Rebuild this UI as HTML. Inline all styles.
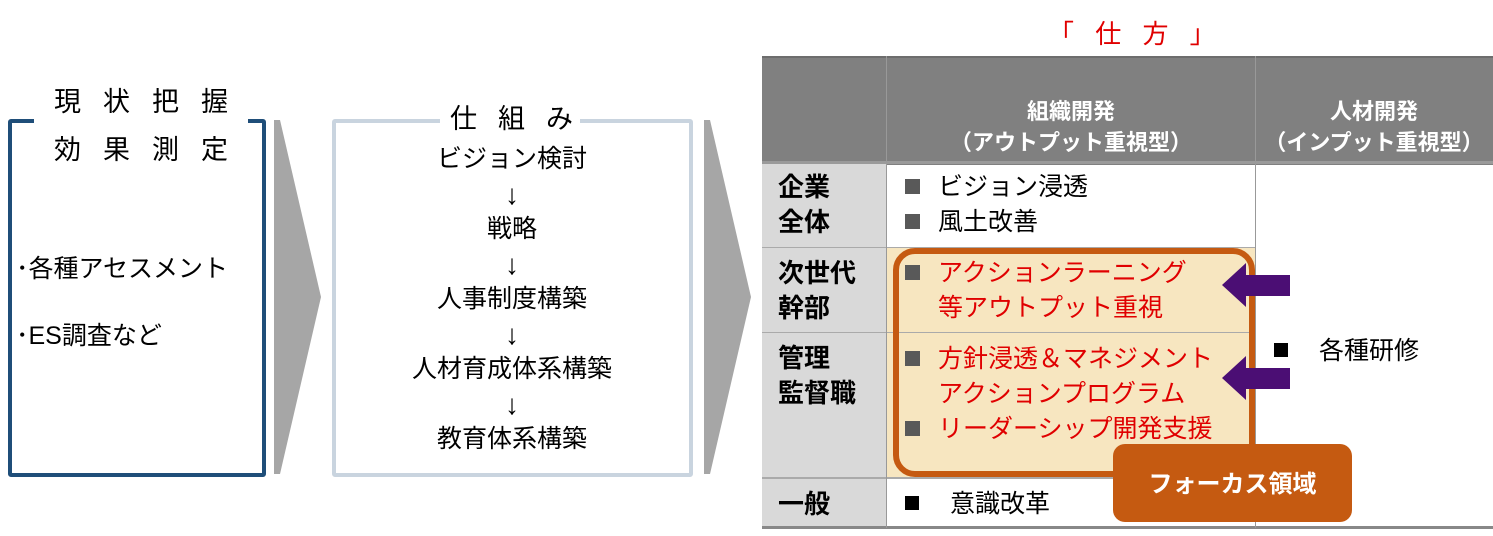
<!DOCTYPE html>
<html><head><meta charset="utf-8"><style>
body{margin:0;width:1493px;height:536px;background:#fff;position:relative;overflow:hidden;font-family:"Liberation Sans","Noto Sans CJK JP",sans-serif;color:#000}
.a{position:absolute;white-space:nowrap}
.c{text-align:center}
.sq{display:inline-block;width:15px;height:15px;background:#595959;margin-right:18px;vertical-align:1px}
.sk{display:inline-block;width:33px}
.bk{display:inline-block;width:14px;height:14px;background:#000;vertical-align:2px}
.l{height:35px;line-height:35px}
</style></head><body>
<div class="a" style="left:8px;top:119px;width:250px;height:350px;border:4px solid #1f4e79;border-radius:3px"></div>
<div class="a" style="left:34px;top:112px;width:214px;height:14px;background:#fff"></div>
<div class="a" style="left:54px;top:80px;font-size:27px;letter-spacing:22px">現状把握</div>
<div class="a" style="left:54px;top:128px;font-size:27px;letter-spacing:22px">効果測定</div>
<div class="a" style="left:16px;top:249px;font-size:25px">･各種アセスメント</div>
<div class="a" style="left:16px;top:316px;font-size:25px">･ES調査など</div>
<svg class="a" style="left:0;top:0" width="1493" height="536">
<polygon points="274,120 280,120 321,297 280,474 274,474" fill="#a6a6a6"/>
<polygon points="704,120 710,120 751,297 710,474 704,474" fill="#a6a6a6"/>
</svg>
<div class="a" style="left:332px;top:119px;width:353px;height:350px;border:4px solid #c9d4df;border-radius:3px"></div>
<div class="a" style="left:440px;top:112px;width:140px;height:14px;background:#fff"></div>
<div class="a" style="left:450px;top:97px;font-size:27px;letter-spacing:21px">仕組み</div>
<div class="a c" style="left:332px;width:360px;top:142px;font-size:25px">
<div class="l">ビジョン検討</div><div class="l" style="font-size:28px">↓</div>
<div class="l">戦略</div><div class="l" style="font-size:28px">↓</div>
<div class="l">人事制度構築</div><div class="l" style="font-size:28px">↓</div>
<div class="l">人材育成体系構築</div><div class="l" style="font-size:28px">↓</div>
<div class="l">教育体系構築</div></div>
<div class="a" style="left:1048px;top:14px;font-size:26px;color:#e00000;letter-spacing:7px">「 仕 方 」</div>
<div class="a" style="left:762px;top:56px;width:731px;height:107px;background:#808080;border-top:2px solid #6d6d6d"></div>
<div class="a" style="left:762px;top:163px;width:125px;height:364px;background:#d9d9d9"></div>
<div class="a" style="left:887px;top:248px;width:368px;height:230px;background:#f7e6c0"></div>
<div class="a" style="left:762px;top:161px;width:731px;height:3px;background:#9a9a9a"></div>
<div class="a" style="left:762px;top:247px;width:493px;height:1px;background:#aaa"></div>
<div class="a" style="left:762px;top:332px;width:493px;height:1px;background:#aaa"></div>
<div class="a" style="left:762px;top:477px;width:493px;height:2px;background:#aaa"></div>
<div class="a" style="left:762px;top:526px;width:731px;height:3px;background:#888"></div>
<div class="a" style="left:886px;top:56px;width:1px;height:472px;background:#999"></div>
<div class="a" style="left:1255px;top:56px;width:1px;height:472px;background:#999"></div>
<div class="a c" style="left:887px;width:368px;top:96px;font-size:22px;font-weight:bold;color:#fff;line-height:31px">組織開発<br>（アウトプット重視型）</div>
<div class="a c" style="left:1255px;width:238px;top:96px;font-size:22px;font-weight:bold;color:#fff;line-height:31px">人材開発<br>（インプット重視型）</div>
<div class="a" style="left:778px;top:170px;font-size:26px;line-height:35px;font-weight:bold">企業<br>全体</div>
<div class="a" style="left:778px;top:256px;font-size:26px;line-height:35px;font-weight:bold">次世代<br>幹部</div>
<div class="a" style="left:778px;top:341px;font-size:26px;line-height:35px;font-weight:bold">管理<br>監督職</div>
<div class="a" style="left:778px;top:484px;font-size:26px;font-weight:bold">一般</div>
<div class="a" style="left:905px;top:170px;font-size:25px;line-height:35px"><span class="sq"></span>ビジョン浸透<br><span class="sq"></span>風土改善</div>
<div class="a" style="left:893px;top:248px;width:350px;height:217px;border:6px solid #c55a11;border-radius:22px"></div>
<div class="a" style="left:905px;top:256px;font-size:25px;line-height:35px;color:#e00000"><span class="sq"></span>アクションラーニング<br><span class="sk"></span>等アウトプット重視</div>
<div class="a" style="left:905px;top:342px;font-size:25px;line-height:35px;color:#e00000"><span class="sq"></span>方針浸透＆マネジメント<br><span class="sk"></span>アクションプログラム<br><span class="sq"></span>リーダーシップ開発支援</div>
<div class="a" style="left:905px;top:484px;font-size:25px"><span class="bk" style="margin-right:31px"></span>意識改革</div>
<div class="a" style="left:1274px;top:331px;font-size:25px"><span class="bk" style="margin-right:31px"></span>各種研修</div>
<svg class="a" style="left:0;top:0" width="1493" height="536">
<polygon points="1222,285 1246,263 1246,275 1290,275 1290,296 1246,296 1246,307" fill="#4b0e74"/>
<polygon points="1222,378 1246,356 1246,368 1290,368 1290,389 1246,389 1246,400" fill="#4b0e74"/>
</svg>
<div class="a c" style="left:1113px;top:444px;width:239px;height:78px;background:#c55a11;border-radius:12px;color:#fff;font-weight:bold;font-size:24px;line-height:82px">フォーカス領域</div>
</body></html>
